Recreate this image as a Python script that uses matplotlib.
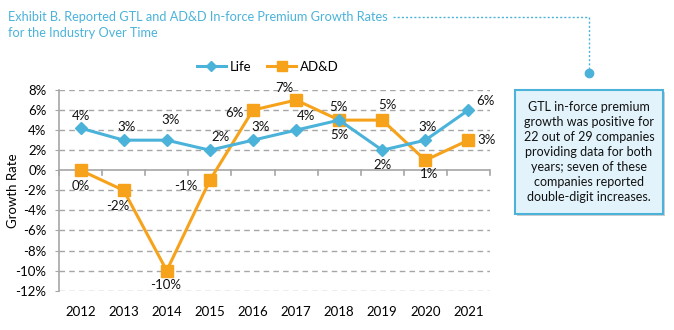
import matplotlib
matplotlib.use("Agg")
import matplotlib.pyplot as plt
from matplotlib.patches import FancyBboxPatch
from matplotlib.lines import Line2D

years = ["2012", "2013", "2014", "2015", "2016", "2017", "2018", "2019", "2020", "2021"]
life = [4.2, 3.0, 3.0, 2.0, 3.0, 4.0, 5.0, 2.0, 3.0, 6.0]
add = [0.0, -2.0, -10.0, -1.0, 6.0, 7.0, 5.0, 5.0, 1.0, 3.0]
y_ticks = [8, 6, 4, 2, 0, -2, -4, -6, -8, -10, -12]

# value-label placement per point: (dx, dy) in pixels, dy up
life_off = [(0, 12), (3, 13), (4, 20), (11, 13), (8, 13), (10, 14), (0, -15), (0, -15), (2, 13), (17, 9)]
add_off = [(0, -16), (-6, -16), (-1, -14), (-24, -6), (-19, -3), (-12, 12), (-1, 13), (5, 15), (4, -14), (18, 0)]

BLUE = "#4BB3DA"
ORANGE = "#F7A21B"
GRID = "#A6A6A6"
FONT = ["Lato", "DejaVu Sans"]
PX = 0.72  # points per pixel at 100 dpi

plt.rcParams["font.family"] = FONT
fig = plt.figure(figsize=(6.74, 3.30), dpi=100)
ax = fig.add_axes([59 / 674, 1 - 290.7 / 330, 431 / 674, 200.7 / 330])

x = list(range(len(years)))
ax.plot(x, life, color=BLUE, lw=2.2, marker="D", ms=6.5, mfc=BLUE, mec=BLUE, zorder=4)
ax.plot(x, add, color=ORANGE, lw=2.2, marker="s", ms=8.5, mfc=ORANGE, mec=ORANGE, zorder=3)

for series, offs in ((life, life_off), (add, add_off)):
    for xi, v, (dx, dy) in zip(x, series, offs):
        ax.annotate(f"{v:.0f}%", (xi, v), xytext=(dx * PX, dy * PX), textcoords="offset points",
                    ha="center", va="center", fontsize=9.5, color="#111111", zorder=6)

ax.set_xlim(-0.5, len(years) - 0.5)
ax.set_ylim(-12, 8)
ax.set_yticks(y_ticks)
ax.set_yticklabels([f"{t}%" for t in y_ticks], fontsize=9.5)
ax.set_xticks(x)
ax.set_xticklabels(years, fontsize=9.5)
ax.tick_params(axis="x", length=0, pad=11)
ax.tick_params(axis="y", length=3, color=GRID, pad=6)
for t in y_ticks:
    if t != 0:
        ax.axhline(t, color=GRID, lw=1.0, ls=(0, (4, 3)), zorder=1)
ax.axhline(0, color=GRID, lw=1.2, zorder=2)
for b in [i - 0.5 for i in range(len(years) + 1)]:
    ax.plot([b, b], [0, -0.45], color=GRID, lw=1.2, zorder=2, clip_on=False)
for s in ["top", "right", "bottom"]:
    ax.spines[s].set_visible(False)
ax.spines["left"].set_color(GRID)
ax.spines["left"].set_linewidth(1.2)
ax.set_ylabel("Growth Rate", fontsize=9.5, va="center")
ax.yaxis.set_label_coords((13 - 59) / 431, 0.5)

# legend
handles = [Line2D([], [], color=BLUE, lw=2.2, marker="D", ms=5),
           Line2D([], [], color=ORANGE, lw=2.2, marker="s", ms=7)]
fig.legend(handles, ["Life", "AD&D"], loc="center", bbox_to_anchor=(268 / 674, 1 - 67 / 330),
           ncol=2, frameon=False, fontsize=9.5, handlelength=2.2, handletextpad=0.3, columnspacing=1.2)

# title
fig.text(8 / 674, 1 - 17 / 330, "Exhibit B. Reported GTL and AD&D In-force Premium Growth Rates",
         color=BLUE, fontsize=9.2, ha="left", va="center")
fig.text(8 / 674, 1 - 33 / 330, "for the Industry Over Time",
         color=BLUE, fontsize=9.2, ha="left", va="center")

# dotted connector to the callout
fig.add_artist(Line2D([393 / 674, 589 / 674], [1 - 17 / 330, 1 - 17 / 330], color=BLUE,
                      lw=1.0, ls=(0, (1.5, 1.5)), transform=fig.transFigure))
fig.add_artist(Line2D([589 / 674, 589 / 674], [1 - 17 / 330, 1 - 73 / 330], color=BLUE,
                      lw=1.0, ls=(0, (1.5, 1.5)), transform=fig.transFigure))
fig.add_artist(Line2D([589 / 674], [1 - 73 / 330], color=BLUE, marker="o", ms=6,
                      transform=fig.transFigure))

# callout box with shadow
bx0, by0, bx1, by1 = 515, 90, 663, 214
shadow = FancyBboxPatch((bx0 / 674 + 0.003, 1 - by1 / 330 - 0.006), (bx1 - bx0) / 674, (by1 - by0) / 330,
                        boxstyle="square,pad=0", fc="#CFCFCF", ec="none", transform=fig.transFigure)
box = FancyBboxPatch((bx0 / 674, 1 - by1 / 330), (bx1 - bx0) / 674, (by1 - by0) / 330,
                     boxstyle="square,pad=0", fc="#E2F3FB", ec=BLUE, lw=1.5, transform=fig.transFigure)
fig.add_artist(shadow)
fig.add_artist(box)
fig.text((bx0 + bx1) / 2 / 674, 1 - (by0 + by1) / 2 / 330,
         "GTL in-force premium\ngrowth was positive for\n22 out of 29 companies\nproviding data for both\n"
         "years; seven of these\ncompanies reported\ndouble-digit increases.",
         ha="center", va="center", fontsize=9, linespacing=1.3, color="#111111")

fig.savefig("out.png", dpi=100)
